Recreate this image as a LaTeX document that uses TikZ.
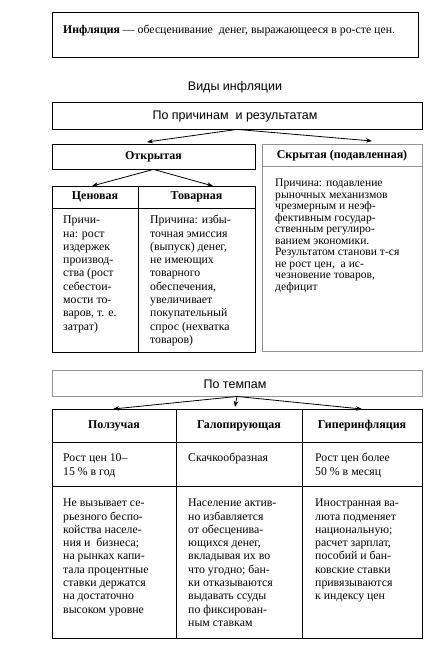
\documentclass[tikz,border=0pt]{standalone}
\usepackage{fontspec}
\setmainfont{Liberation Serif}
\setsansfont{Liberation Sans}
\usetikzlibrary{arrows.meta}
\newcommand{\fl}{\rule{0pt}{9pt}}
\tikzset{
  box/.style={draw=black, line width=0.8pt, rectangle, inner sep=0pt},
  gbox/.style={draw=black!42, line width=0.9pt, rectangle, inner sep=0pt},
  hdr/.style={font=\fontsize{12}{14}\selectfont\bfseries, inner sep=0pt},
  sfhdr/.style={font=\sffamily\fontsize{12.5}{14}\selectfont, inner sep=0pt},
  body/.style={font=\rmfamily\fontsize{11.8}{13.3}\selectfont, align=left, anchor=north west, inner sep=0pt},
  bodys/.style={font=\rmfamily\fontsize{11.6}{11.5}\selectfont, align=left, anchor=north west, inner sep=0pt},
  arr/.style={line width=0.8pt, -{Stealth[length=6pt,width=4.5pt]}},
}
\begin{document}
\begin{tikzpicture}[x=1pt,y=-1pt]
\useasboundingbox (0,0) rectangle (437,649);

% definition
\node[box, minimum width=366, minimum height=45] (def) at (235,34.5) {};
\node[body] (deftxt) at (63,24.5) {\fl\textbf{Инфляция} — обесценивание\ \ денег, выражающееся в ро-сте цен.};

\node[sfhdr] (vid) at (235,87) {Виды инфляции};

% by causes
\node[box, minimum width=370, minimum height=27] (pr) at (237,115.5) {};
\node[sfhdr] (prtxt) at (235,116) {По причинам\ \ и результатам};

\node[box, minimum width=203, minimum height=25] (otk) at (153.5,156.5) {};
\node[hdr] (otktxt) at (153.5,157) {Открытая};

\coordinate (t1) at (147,142);
\coordinate (t2) at (372,141);
\draw[arr] (pr.south) -- (t1);
\draw[arr] (pr.south) -- (t2);

% hidden
\node[gbox, minimum width=160, minimum height=207] (skr) at (342,247.5) {};
\draw[draw=black!42, line width=0.9pt] (skr.west |- 0,166) -- (skr.east |- 0,166);
\node[hdr] (skrh) at (342,156) {Скрытая (подавленная)};
\node[bodys] (skrtxt) at (275,177.5) {\fl Причина: подавление\\рыночных механизмов\\чрезмерным и неэф-\\фективным государ-\\ственным регулиро-\\ванием экономики.\\Результатом станови т-ся\\не рост цен,\ \ а ис-\\чезновение товаров,\\дефицит};

% price / commodity
\node[box, minimum width=86, minimum height=22] (cenh) at (95,197) {};
\node[box, minimum width=117, minimum height=22] (tovh) at (196.5,197) {};
\node[box, minimum width=86, minimum height=144] (cenb) at (95,280) {};
\node[box, minimum width=117, minimum height=144] (tovb) at (196.5,280) {};
\node[hdr] at (cenh) {Ценовая};
\node[hdr] at (tovh) {Товарная};
\coordinate (t3) at (92,186);
\coordinate (t4) at (213,186);
\draw[arr] (otk.south) -- (t3);
\draw[arr] (otk.south) -- (t4);
\node[body] (centxt) at (63,214.5) {\fl Причи-\\на: рост\\издержек\\производ-\\ства (рост\\себестои-\\мости то-\\варов, т. е.\\затрат)};
\node[body] (tovtxt) at (150,214.5) {\fl Причина: избы-\\точная эмиссия\\(выпуск) денег,\\не имеющих\\товарного\\обеспечения,\\увеличивает\\покупательный\\спрос (нехватка\\товаров)};

% by rate
\node[gbox, minimum width=370, minimum height=26] (tmp) at (237,383) {};
\node[sfhdr] (tmptxt) at (235,384) {По темпам};

\node[box, minimum width=124, minimum height=33] (h1) at (114,425.5) {};
\node[box, minimum width=126, minimum height=33] (h2) at (239,425.5) {};
\node[box, minimum width=120, minimum height=33] (h3) at (362,425.5) {};
\node[box, minimum width=124, minimum height=44] (r1) at (114,464) {};
\node[box, minimum width=126, minimum height=44] (r2) at (239,464) {};
\node[box, minimum width=120, minimum height=44] (r3) at (362,464) {};
\node[box, minimum width=124, minimum height=152] (b1) at (114,562) {};
\node[box, minimum width=126, minimum height=152] (b2) at (239,562) {};
\node[box, minimum width=120, minimum height=152] (b3) at (362,562) {};
\node[hdr] at (h1) {Ползучая};
\node[hdr] at (h2) {Галопирующая};
\node[hdr] at (h3) {Гиперинфляция};

\coordinate (t5) at (113,409);
\coordinate (t6) at (235,407);
\coordinate (t7) at (362,409);
\draw[arr] (tmp.south) -- (t5);
\draw[arr] (tmp.south) -- (t6);
\draw[arr] (tmp.south) -- (t7);

\node[body] (r1t) at (63,452.5) {\fl Рост цен 10–\\15 \% в год};
\node[body] (r2t) at (188,452.5) {\fl Скачкообразная};
\node[body] (r3t) at (315,452.5) {\fl Рост цен более\\50 \% в месяц};

\node[body] (b1t) at (63,497.5) {\fl Не вызывает се-\\рьезного беспо-\\койства населе-\\ния и\ \ бизнеса;\\на рынках капи-\\тала процентные\\ставки держатся\\на достаточно\\высоком уровне};
\node[body] (b2t) at (188,497.5) {\fl Население актив-\\но избавляется\\от обесценива-\\ющихся денег,\\вкладывая их во\\что угодно; бан-\\ки отказываются\\выдавать ссуды\\по фиксирован-\\ным ставкам};
\node[body] (b3t) at (315,497.5) {\fl Иностранная ва-\\люта подменяет\\национальную;\\расчет зарплат,\\пособий и бан-\\ковские ставки\\привязываются\\к индексу цен};
\end{tikzpicture}
\end{document}
